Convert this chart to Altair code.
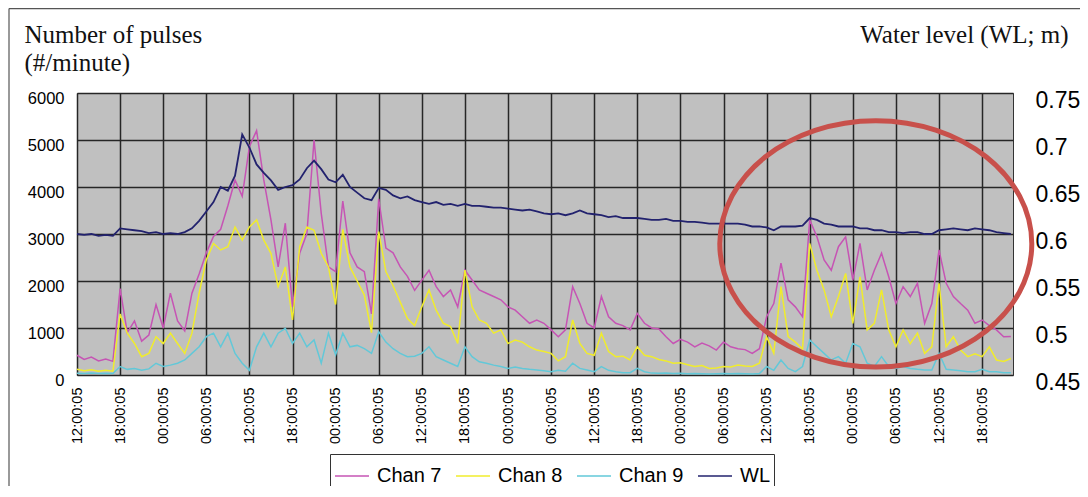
import altair as alt
import pandas as pd

# ---------------- data ----------------
hours = list(range(131))  # hours after the first 12:00:05 tick

chan7 = [420, 330, 380, 300, 340, 290, 1840, 900, 1150, 720,
         850, 1500, 1000, 1740, 1150, 940, 1740, 2150, 2600, 2950,
         3100, 3600, 4150, 3800, 4860, 5200, 4150, 3300, 2300, 3230,
         1450, 2590, 3010, 5000, 3440, 2300, 2200, 3700, 2600, 2300,
         2200, 1300, 3750, 2700, 2600, 2300, 2100, 1800, 2020, 2230,
         1880, 1670, 1810, 1450, 2230, 2020, 1810, 1740, 1670, 1600,
         1450, 1380, 1240, 1100, 1170, 1100, 960, 815, 960, 1880,
         1520, 1100, 1000, 1670, 1240, 1100, 1050, 960, 1310, 1100,
         1000, 980, 815, 670, 760, 700, 600, 680, 620, 530,
         700, 600, 560, 540, 460, 560, 1240, 1520, 2380, 1600,
         1450, 1240, 3300, 2940, 2450, 2230, 2730, 2940, 2020, 2800,
         1810, 2230, 2590, 2090, 1520, 1880, 1670, 1950, 1100, 1520,
         2660, 1950, 1670, 1520, 1380, 1100, 1170, 1050, 960, 815,
         820]

chan8 = [120, 90, 110, 80, 100, 80, 1300, 890, 670, 390,
         460, 815, 670, 890, 670, 460, 890, 1740, 2450, 2800,
         2660, 2730, 3150, 2870, 3150, 3300, 2870, 2590, 1880, 2300,
         1170, 2730, 3150, 3080, 2590, 2300, 1500, 3100, 2300, 2000,
         1700, 900, 3050, 2200, 1900, 1550, 1200, 1050, 1450, 1810,
         1380, 1100, 1030, 670, 2230, 1450, 1170, 1100, 890, 960,
         670, 745, 700, 600, 530, 500, 460, 300, 390, 1170,
         670, 460, 420, 890, 500, 390, 400, 320, 600, 420,
         390, 330, 300, 250, 260, 220, 180, 200, 140, 150,
         180, 170, 210, 190, 180, 250, 815, 460, 1880, 815,
         700, 550, 2800, 2230, 1810, 1240, 1670, 2160, 1100, 2090,
         960, 1100, 1810, 960, 600, 960, 670, 890, 460, 600,
         1950, 600, 815, 530, 390, 450, 390, 600, 320, 290,
         350]

chan9 = [35, 30, 40, 30, 35, 30, 180, 120, 140, 100,
         130, 250, 180, 210, 250, 320, 460, 600, 815, 890,
         600, 890, 460, 250, 100, 600, 890, 600, 890, 990,
         670, 890, 600, 745, 250, 890, 430, 890, 600, 630,
         560, 460, 920, 700, 560, 460, 390, 400, 460, 600,
         390, 320, 250, 180, 600, 390, 280, 250, 210, 180,
         140, 170, 140, 120, 105, 90, 70, 100, 80, 250,
         140, 105, 70, 180, 100, 70, 50, 50, 140, 70,
         40, 35, 40, 30, 35, 25, 30, 25, 20, 25,
         30, 25, 30, 25, 20, 30, 180, 100, 320, 140,
         70, 180, 745, 600, 460, 320, 390, 250, 670, 600,
         250, 180, 390, 180, 140, 180, 140, 120, 105, 105,
         460, 120, 105, 90, 70, 70, 120, 70, 70, 50,
         50]

water_level = [0.600, 0.599, 0.600, 0.598, 0.599, 0.598, 0.606, 0.605, 0.604, 0.603,
               0.601, 0.602, 0.600, 0.601, 0.600, 0.602, 0.606, 0.614, 0.624, 0.634,
               0.650, 0.646, 0.662, 0.706, 0.692, 0.674, 0.665, 0.657, 0.647, 0.650,
               0.652, 0.658, 0.670, 0.678, 0.669, 0.658, 0.655, 0.663, 0.650, 0.644,
               0.638, 0.636, 0.649, 0.647, 0.641, 0.638, 0.640, 0.636, 0.634, 0.632,
               0.634, 0.631, 0.632, 0.630, 0.632, 0.630, 0.630, 0.629, 0.628, 0.628,
               0.627, 0.626, 0.625, 0.626, 0.624, 0.622, 0.621, 0.622, 0.620, 0.622,
               0.625, 0.622, 0.621, 0.620, 0.618, 0.619, 0.617, 0.617, 0.617, 0.616,
               0.615, 0.615, 0.616, 0.614, 0.614, 0.613, 0.613, 0.612, 0.611, 0.611,
               0.611, 0.611, 0.611, 0.610, 0.608, 0.608, 0.607, 0.604, 0.608, 0.608,
               0.608, 0.609, 0.617, 0.615, 0.611, 0.610, 0.608, 0.608, 0.608, 0.606,
               0.606, 0.604, 0.604, 0.602, 0.602, 0.601, 0.602, 0.602, 0.600, 0.600,
               0.604, 0.605, 0.606, 0.605, 0.604, 0.606, 0.605, 0.604, 0.602, 0.601,
               0.600]

tick_hours = list(range(0, 127, 6))
tick_labels = ["12:00:05", "18:00:05", "00:00:05", "06:00:05",
               "12:00:05", "18:00:05", "00:00:05", "06:00:05",
               "12:00:05", "18:00:05", "00:00:05", "06:00:05",
               "12:00:05", "18:00:05", "00:00:05", "06:00:05",
               "12:00:05", "18:00:05", "00:00:05", "06:00:05",
               "12:00:05", "18:00:05"]

series_names = ["Chan 7", "Chan 8", "Chan 9", "WL"]
series_colors = ["#C654B4", "#F0EC2C", "#62C8D8", "#22226E"]

left_ticks = [0, 1000, 2000, 3000, 4000, 5000, 6000]
right_ticks = [0.45, 0.5, 0.55, 0.6, 0.65, 0.7, 0.75]

highlight_hour = [111.2]
highlight_count = [2790]

# ---------------- tables ----------------
rows = []
for name, vals in [("Chan 7", chan7), ("Chan 8", chan8), ("Chan 9", chan9)]:
    for h, v in zip(hours, vals):
        rows.append({"hour": h, "value": v, "series": name})
df_chan = pd.DataFrame(rows)
df_wl = pd.DataFrame({"hour": hours, "wl": water_level, "series": "WL"})
df_hl = pd.DataFrame({"hour": highlight_hour, "value": highlight_count})

label_expr = "[" + ",".join("'%s'" % s for s in tick_labels) + "][round(datum.value / 6)]"

GRID = "#262626"
SANS = "Liberation Sans"
SERIF = "Liberation Serif"

x_axis = alt.Axis(values=tick_hours, labelExpr=label_expr, labelAngle=270,
                  labelFont=SANS, labelFontSize=14.5, labelColor="#000",
                  labelPadding=12, ticks=False, domain=False, grid=True,
                  gridColor=GRID, gridWidth=1.5, gridOpacity=1, title=None)
x_scale = alt.Scale(domain=[0, 130.3], nice=False, zero=False)
x_enc = alt.X("hour:Q", scale=x_scale, axis=x_axis)

color_scale = alt.Scale(domain=series_names, range=series_colors)
legend = alt.Legend(orient="none", legendX=253, legendY=361, direction="horizontal",
                    columns=4, title=None, labelFont=SANS, labelFontSize=20,
                    labelColor="#000", symbolType="stroke", symbolSize=1156,
                    symbolStrokeWidth=1.5, labelOffset=7, columnPadding=11,
                    padding=4, strokeColor="#333", fillColor="#FFFFFF")

chan_lines = alt.Chart(df_chan).mark_line(strokeWidth=1.5).encode(
    x=x_enc,
    y=alt.Y("value:Q",
            scale=alt.Scale(domain=[0, 6000], nice=False),
            axis=alt.Axis(values=left_ticks, format="d", orient="left",
                          title=["Number of pulses", "(#/minute)"],
                          titleAngle=0, titleAlign="left", titleBaseline="alphabetic",
                          titleX=-53, titleY=-51, titleFont=SERIF, titleFontSize=25,
                          titleFontWeight="normal", titleColor="#111", titleLineHeight=28,
                          labelFont=SANS, labelFontSize=16.5, labelColor="#000",
                          labelPadding=13, labelOffset=5, ticks=False, domain=False,
                          grid=True, gridColor=GRID, gridWidth=1.5, gridOpacity=1)),
    color=alt.Color("series:N", scale=color_scale, legend=legend),
)

wl_line = alt.Chart(df_wl).mark_line(strokeWidth=1.8).encode(
    x=x_enc,
    y=alt.Y("wl:Q",
            scale=alt.Scale(domain=[0.45, 0.75], nice=False, zero=False),
            axis=alt.Axis(values=right_ticks, format=".2~f", orient="right",
                          title="Water level (WL; m)", titleAngle=0, titleAlign="right",
                          titleBaseline="alphabetic", titleX=55, titleY=-51,
                          titleFont=SERIF, titleFontSize=25, titleFontWeight="normal",
                          titleColor="#111", labelFont=SANS, labelFontSize=23,
                          labelColor="#000", labelPadding=22, labelOffset=7.5,
                          ticks=False, domain=False, grid=False)),
    color=alt.Color("series:N", scale=color_scale, legend=legend),
)

ellipse_path = ("M -1 0 C -1 -0.436 -0.5523 -0.79 0 -0.79 "
                "C 0.5523 -0.79 1 -0.436 1 0 "
                "C 1 0.436 0.5523 0.79 0 0.79 "
                "C -0.5523 0.79 -1 0.436 -1 0 Z")

highlight = alt.Chart(df_hl).mark_point(
    shape=ellipse_path, size=97344, filled=False, strokeWidth=5,
    color="#C8504B", opacity=1,
).encode(
    x=x_enc,
    y=alt.Y("value:Q", scale=alt.Scale(domain=[0, 6000], nice=False), axis=None),
)

frame_top = alt.Chart(df_hl).mark_rule(color="#555", strokeWidth=1.2).encode(
    x=alt.value(-68), x2=alt.value(1003), y=alt.value(-84.4))
frame_left = alt.Chart(df_hl).mark_rule(color="#555", strokeWidth=1.2).encode(
    x=alt.value(-68), y=alt.value(-84.4), y2=alt.value(400))

chart = alt.layer(chan_lines, wl_line, highlight, frame_top, frame_left).resolve_scale(
    y="independent"
).properties(
    width=936, height=282,
    autosize=alt.AutoSizeParams(type="none"),
    padding={"left": 69, "top": 85, "right": 67, "bottom": 111},
    background="#FFFFFF",
).configure_view(
    fill="#C0C0C0", stroke="#333", strokeWidth=1
)

chart.save("out.html", embed_options={"renderer": "svg", "actions": False})
